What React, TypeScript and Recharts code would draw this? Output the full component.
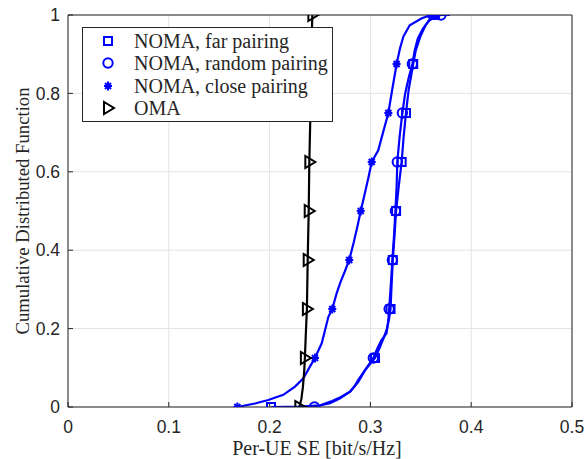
import React from "react";
import {
  ComposedChart,
  Line,
  Scatter,
  XAxis,
  YAxis,
  CartesianGrid,
} from "recharts";

const X_TICKS = [0, 0.1, 0.2, 0.3, 0.4, 0.5];
const Y_TICKS = [0, 0.2, 0.4, 0.6, 0.8, 1];
// markers sit on every 1/8 of the CDF
const MARKER_LEVELS = [0, 0.125, 0.25, 0.375, 0.5, 0.625, 0.75, 0.875, 1];

// NOMA, far pairing
const farX = [0.2014, 0.23, 0.25, 0.26, 0.27, 0.28, 0.288, 0.295, 0.3046, 0.309, 0.313, 0.3165, 0.3185, 0.32, 0.321, 0.3222, 0.324, 0.3255, 0.328, 0.331, 0.333, 0.3353, 0.338, 0.3425, 0.345, 0.3495, 0.355, 0.36, 0.364];
const farY = [0, 0.001, 0.004, 0.01, 0.022, 0.04, 0.064, 0.095, 0.125, 0.15, 0.175, 0.2, 0.225, 0.25, 0.31, 0.375, 0.44, 0.5, 0.56, 0.625, 0.69, 0.75, 0.81, 0.875, 0.91, 0.945, 0.975, 0.993, 1];
const farMarkX = [0.2014, 0.3046, 0.32, 0.3222, 0.3255, 0.331, 0.3353, 0.3425, 0.364];

// NOMA, random pairing
const randX = [0.2445, 0.25, 0.255, 0.262, 0.268, 0.275, 0.28, 0.284, 0.288, 0.2946, 0.3029, 0.307, 0.311, 0.316, 0.3178, 0.3186, 0.3202, 0.3218, 0.3235, 0.3248, 0.326, 0.3267, 0.329, 0.3317, 0.3345, 0.338, 0.3416, 0.344, 0.347, 0.352, 0.358, 0.365, 0.37, 0.379];
const randY = [0, 0.003, 0.009, 0.015, 0.022, 0.032, 0.039, 0.052, 0.069, 0.094, 0.125, 0.15, 0.171, 0.188, 0.222, 0.25, 0.31, 0.375, 0.44, 0.5, 0.56, 0.625, 0.69, 0.75, 0.8, 0.84, 0.875, 0.91, 0.94, 0.965, 0.985, 0.996, 1, 1];
const randMarkX = [0.2445, 0.3029, 0.3186, 0.3218, 0.3248, 0.3267, 0.3317, 0.3416, 0.37];

// NOMA, close pairing
const closeX = [0.168, 0.1855, 0.1987, 0.2136, 0.2252, 0.2335, 0.24, 0.245, 0.2517, 0.255, 0.2583, 0.2622, 0.2665, 0.2705, 0.2745, 0.279, 0.2835, 0.2875, 0.2904, 0.2945, 0.298, 0.3013, 0.3078, 0.3125, 0.3178, 0.322, 0.326, 0.3294, 0.3327, 0.339, 0.351, 0.36];
const closeY = [0, 0.009, 0.018, 0.031, 0.052, 0.073, 0.103, 0.125, 0.1625, 0.196, 0.23, 0.25, 0.29, 0.32, 0.345, 0.375, 0.42, 0.465, 0.5, 0.545, 0.585, 0.625, 0.655, 0.7, 0.75, 0.815, 0.875, 0.915, 0.945, 0.974, 0.9915, 1];
const closeMarkX = [0.168, 0.245, 0.2622, 0.279, 0.2904, 0.3013, 0.3178, 0.326, 0.36];

// OMA
const omaX = [0.2295, 0.2315, 0.233, 0.2343, 0.235, 0.236, 0.237, 0.2378, 0.2388, 0.2394, 0.2405, 0.241, 0.2424];
const omaY = [0, 0.02, 0.05, 0.09, 0.125, 0.19, 0.25, 0.375, 0.5, 0.625, 0.75, 0.875, 1];
const omaMarkX = [0.2295, 0.235, 0.237, 0.2378, 0.2388, 0.2394, 0.2405, 0.241, 0.2424];

const BLUE = "#0000ff";
const AXIS = "#262626";
const zip = (xs: number[], ys: number[]) => xs.map((x, i) => ({ x, y: ys[i] }));

const SquareMark = ({ cx, cy }: any) => (
  <rect x={cx - 4} y={cy - 4} width={8} height={8} fill="none" stroke={BLUE} strokeWidth={2} />
);
const CircleMark = ({ cx, cy }: any) => (
  <circle cx={cx} cy={cy} r={4.7} fill="none" stroke={BLUE} strokeWidth={2} />
);
const StarMark = ({ cx, cy }: any) => (
  <g stroke={BLUE} strokeWidth={2}>
    <line x1={cx - 4} y1={cy} x2={cx + 4} y2={cy} />
    <line x1={cx} y1={cy - 4.5} x2={cx} y2={cy + 4.5} />
    <line x1={cx - 3} y1={cy - 3} x2={cx + 3} y2={cy + 3} />
    <line x1={cx - 3} y1={cy + 3} x2={cx + 3} y2={cy - 3} />
  </g>
);
const TriMark = ({ cx, cy }: any) => (
  <polygon
    points={`${cx - 4},${cy - 6} ${cx - 4},${cy + 6} ${cx + 6},${cy}`}
    fill="none"
    stroke="#000"
    strokeWidth={2}
  />
);

const XTitle = () => (
  <text x={317} y={455} textAnchor="middle" fontFamily="Liberation Serif" fontSize={20} fill={AXIS}>
    Per-UE SE [bit/s/Hz]
  </text>
);
const YTitle = () => (
  <text
    x={29}
    y={211}
    transform="rotate(-90 29 211)"
    textAnchor="middle"
    fontFamily="Liberation Serif"
    fontSize={18.7}
    fill={AXIS}
  >
    Cumulative Distributed Function
  </text>
);

const legendRows = [
  { label: "NOMA, far pairing", Mark: SquareMark },
  { label: "NOMA, random pairing", Mark: CircleMark },
  { label: "NOMA, close pairing", Mark: StarMark },
  { label: "OMA", Mark: TriMark },
];

const tickStyle = { fill: AXIS, fontSize: 17.5, fontFamily: "Liberation Sans" };

export default function App() {
  const series = [
    { line: zip(farX, farY), marks: farMarkX, color: BLUE, shape: SquareMark },
    { line: zip(randX, randY), marks: randMarkX, color: BLUE, shape: CircleMark },
    { line: zip(closeX, closeY), marks: closeMarkX, color: BLUE, shape: StarMark },
    { line: zip(omaX, omaY), marks: omaMarkX, color: "#000", shape: TriMark },
  ];

  return (
    <div style={{ position: "absolute", left: 0, top: 0, width: 585, height: 459, background: "#fff" }}>
      <ComposedChart width={585} height={459} margin={{ top: 0, right: 0, bottom: 0, left: 0 }}>
        <CartesianGrid stroke="#e3e3e3" />
        <XAxis
          dataKey="x"
          type="number"
          domain={[0, 0.5]}
          ticks={X_TICKS}
          height={52}
          tickSize={-5}
          tickMargin={19}
          tick={tickStyle}
          stroke={AXIS}
          allowDataOverflow
          label={<XTitle />}
        />
        <XAxis xAxisId="top" orientation="top" type="number" domain={[0, 0.5]} ticks={X_TICKS} height={15} tickSize={-5} tick={false} stroke={AXIS} />
        <YAxis
          dataKey="y"
          type="number"
          domain={[0, 1]}
          ticks={Y_TICKS}
          width={68}
          tickSize={-5}
          tickMargin={13}
          tick={tickStyle}
          stroke={AXIS}
          allowDataOverflow
          label={<YTitle />}
        />
        <YAxis yAxisId="right" orientation="right" type="number" domain={[0, 1]} ticks={Y_TICKS} width={13} tickSize={-5} tick={false} stroke={AXIS} />
        {series.map((s, i) => (
          <Line
            key={`l${i}`}
            data={s.line}
            dataKey="y"
            type="linear"
            stroke={s.color}
            strokeWidth={2.2}
            dot={false}
            isAnimationActive={false}
          />
        ))}
        {series.map((s, i) => (
          <Scatter
            key={`m${i}`}
            data={zip(s.marks, MARKER_LEVELS)}
            dataKey="y"
            shape={s.shape}
            isAnimationActive={false}
          />
        ))}
      </ComposedChart>
      <div
        style={{
          position: "absolute",
          left: 82,
          top: 27,
          width: 251,
          height: 95,
          boxSizing: "border-box",
          border: `1px solid ${AXIS}`,
          background: "#fff",
          fontFamily: "Liberation Serif",
          fontSize: 20,
          color: AXIS,
        }}
      >
        {legendRows.map((r, i) => (
          <div key={r.label} style={{ position: "absolute", left: 0, top: 2 + i * 22.3, height: 22, width: 249 }}>
            <svg width={40} height={22} style={{ position: "absolute", left: 5, top: 0 }}>
              <r.Mark cx={20} cy={11} />
            </svg>
            <span style={{ position: "absolute", left: 51, top: 0, lineHeight: "22px", whiteSpace: "nowrap" }}>
              {r.label}
            </span>
          </div>
        ))}
      </div>
    </div>
  );
}
